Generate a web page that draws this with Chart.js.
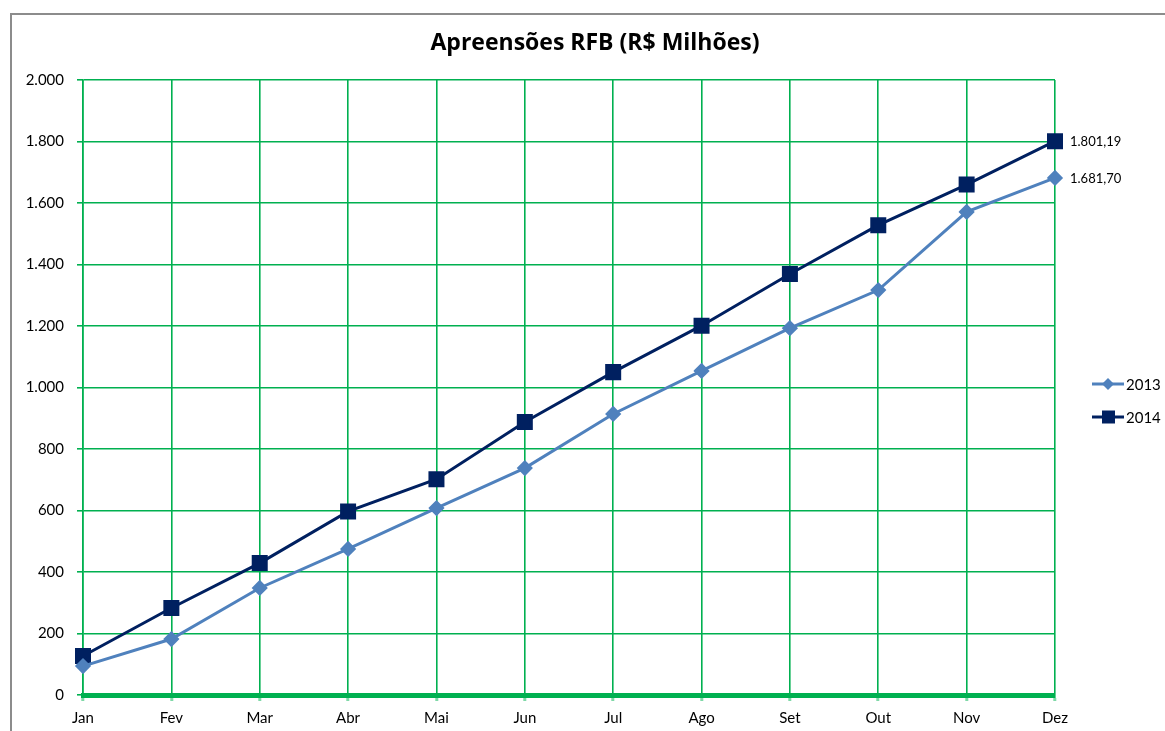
<!DOCTYPE html>
<html>
<head>
<meta charset="utf-8">
<script src="https://cdn.jsdelivr.net/npm/chart.js@4.4.1/dist/chart.umd.min.js"></script>
<style>
  html, body { margin: 0; padding: 0; background: #fff; }
  #wrap { position: relative; width: 1165px; height: 731px; }
</style>
</head>
<body>
<div id="wrap"><canvas id="c" width="1165" height="731"></canvas></div>
<script>
const months = ['Jan','Fev','Mar','Abr','Mai','Jun','Jul','Ago','Set','Out','Nov','Dez'];
const values2013 = [94, 182, 348, 475, 608, 738, 914, 1054, 1193, 1317, 1571, 1681.70];
const values2014 = [127, 283, 429, 597, 702, 888, 1050, 1201, 1369, 1528, 1660, 1801.19];
const seriesNames = ['2013', '2014'];
const yTicks = [0, 200, 400, 600, 800, 1000, 1200, 1400, 1600, 1800, 2000];
const chartTitle = 'Apreensões RFB (R$ Milhões)';

const GREEN = '#00B050';
const C2013 = '#4F81BD';
const C2014 = '#002060';
const FONT = 'Lato, "Open Sans", sans-serif';

function fmtThousands(v) {
  return String(v).replace(/\B(?=(\d{3})+(?!\d))/g, '.');
}
function fmtDecimal(v) {
  const parts = v.toFixed(2).split('.');
  return fmtThousands(parts[0]) + ',' + parts[1];
}

const decorPlugin = {
  id: 'decor',
  beforeDraw(chart) {
    const ctx = chart.ctx;
    ctx.save();
    ctx.fillStyle = '#fff';
    ctx.fillRect(0, 0, chart.width, chart.height);
    ctx.strokeStyle = '#8c8c8c';
    ctx.lineWidth = 2;
    ctx.beginPath();
    ctx.moveTo(11, chart.height + 2);
    ctx.lineTo(11, 14);
    ctx.lineTo(chart.width + 2, 14);
    ctx.stroke();
    ctx.restore();
  },
  afterDraw(chart) {
    const ctx = chart.ctx;
    ctx.save();
    // title
    ctx.fillStyle = '#000';
    ctx.font = 'bold 23px "Open Sans", sans-serif';
    ctx.textAlign = 'center';
    ctx.textBaseline = 'middle';
    ctx.fillText(chartTitle, 595, 43);
    // data labels on last point
    ctx.font = '13px ' + FONT;
    ctx.textAlign = 'left';
    chart.data.datasets.forEach((ds, i) => {
      const meta = chart.getDatasetMeta(i);
      const last = meta.data[meta.data.length - 1];
      ctx.fillText(fmtDecimal(ds.data[ds.data.length - 1]), last.x + 15, last.y + 1);
    });
    // legend
    const legendY = [384, 417];
    chart.data.datasets.forEach((ds, i) => {
      const y = legendY[i];
      ctx.strokeStyle = ds.borderColor;
      ctx.lineWidth = 3;
      ctx.beginPath();
      ctx.moveTo(1092, y);
      ctx.lineTo(1124, y);
      ctx.stroke();
      ctx.fillStyle = ds.borderColor;
      if (ds.pointStyle === 'rect') {
        ctx.fillRect(1102, y - 6.5, 13, 13);
      } else {
        ctx.beginPath();
        ctx.moveTo(1108, y - 6);
        ctx.lineTo(1114, y);
        ctx.lineTo(1108, y + 6);
        ctx.lineTo(1102, y);
        ctx.closePath();
        ctx.fill();
      }
      ctx.fillStyle = '#000';
      ctx.font = '15px ' + FONT;
      ctx.textAlign = 'left';
      ctx.fillText(ds.label, 1126, y + 1);
    });
    ctx.restore();
  }
};

new Chart(document.getElementById('c'), {
  type: 'line',
  data: {
    labels: months,
    datasets: [
      {
        label: seriesNames[0],
        data: values2013,
        borderColor: C2013,
        backgroundColor: C2013,
        borderWidth: 3,
        pointStyle: 'rectRot',
        pointRadius: 6,
        pointHoverRadius: 6,
        tension: 0
      },
      {
        label: seriesNames[1],
        data: values2014,
        borderColor: C2014,
        backgroundColor: C2014,
        borderWidth: 3,
        pointStyle: 'rect',
        pointRadius: 9.2,
        pointHoverRadius: 9.2,
        tension: 0
      }
    ]
  },
  options: {
    responsive: false,
    animation: false,
    devicePixelRatio: 1,
    layout: { padding: { top: 80, right: 110, left: 0, bottom: 0 } },
    plugins: {
      legend: { display: false },
      title: { display: false },
      tooltip: { enabled: false }
    },
    scales: {
      x: {
        offset: false,
        grid: { color: GREEN, lineWidth: 1.6, tickLength: 6, tickColor: '#7FD8A7', tickWidth: 3 },
        border: { color: GREEN, width: 5 },
        ticks: { color: '#000', font: { family: FONT, size: 15 }, padding: 8, maxRotation: 0, autoSkip: false },
        afterFit(scale) { scale.height = 36; }
      },
      y: {
        min: 0,
        max: 2000,
        afterBuildTicks(scale) { scale.ticks = yTicks.map(v => ({ value: v })); },
        grid: { color: GREEN, lineWidth: 1.6, tickLength: 6 },
        border: { color: GREEN, width: 1.6 },
        ticks: {
          color: '#000',
          font: { family: FONT, size: 15 },
          padding: 13,
          callback: (v) => fmtThousands(v)
        },
        afterFit(scale) { scale.width = 83; }
      }
    }
  },
  plugins: [decorPlugin]
});
</script>
</body>
</html>
